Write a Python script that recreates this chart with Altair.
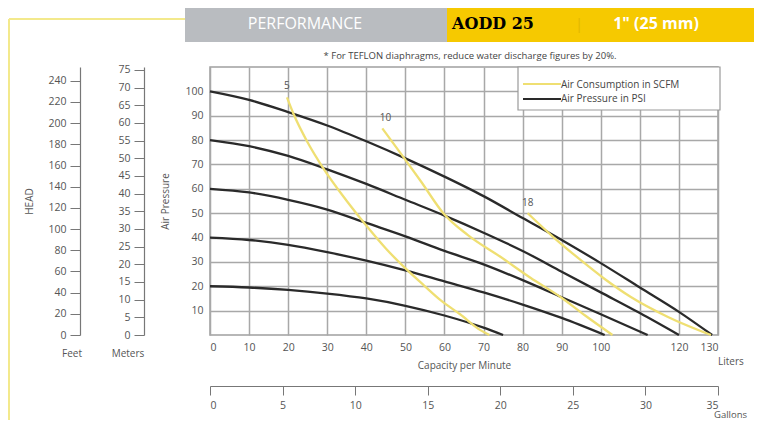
import altair as alt
import pandas as pd

# ---------------- data ----------------
# Air pressure curves (psi) : capacity (liters/min) vs pressure (psi)
psi100_x = [0, 10, 20, 30, 40, 50, 60, 70, 80, 90, 100, 110, 120, 128.5]
psi100_y = [100, 96.5, 91.5, 86, 79.5, 72.5, 65, 57, 48, 39, 29.5, 19.5, 9.5, 0]
psi80_x = [0, 10, 20, 30, 40, 50, 60, 70, 80, 90, 100, 110, 120]
psi80_y = [80, 77.5, 73.5, 68, 62, 55.5, 49, 42, 34.5, 26, 17.5, 9, 0]
psi60_x = [0, 10, 20, 30, 40, 50, 60, 70, 80, 90, 100, 112]
psi60_y = [60, 58.5, 55.5, 51.5, 46, 40.5, 34.5, 29, 22.5, 15.5, 8.5, 0]
psi40_x = [0, 10, 20, 30, 40, 50, 60, 70, 80, 90, 101]
psi40_y = [40, 39, 37, 34, 30.5, 26.5, 22, 17.5, 12.5, 7, 0]
psi20_x = [0, 10, 20, 30, 40, 50, 60, 70, 75]
psi20_y = [20, 19.5, 18.5, 17, 15, 12, 8, 3, 0]

# Air consumption curves (SCFM)
scfm5_x = [19.7, 21.3, 25, 29, 35, 40.3, 45, 50.5, 55, 59, 64, 69.2, 71.5]
scfm5_y = [97.5, 91, 79, 68.4, 55, 44.3, 35.5, 26.6, 20, 14.3, 8.5, 2, 0]
scfm10_x = [44.1, 49.5, 54, 59.7, 66, 74.4, 82, 89.7, 96, 103]
scfm10_y = [84.8, 73, 63, 50, 41, 32, 23.5, 15.6, 8, 0]
scfm18_x = [81.3, 88, 94.9, 101, 107.7, 117.2, 128.2]
scfm18_y = [50, 40, 30.7, 23, 15.6, 7.4, 0]

curve_label_text = ["5", "10", "18"]
curve_label_x = [19.7, 44.9, 81.3]
curve_label_y = [102, 89, 54]

liters_ticks = list(range(0, 131, 10))
psi_ticks = list(range(10, 101, 10))
feet_ticks = list(range(0, 241, 20))
meter_ticks = list(range(0, 76, 5))
gallon_ticks = list(range(0, 36, 5))

series_types = ["Air Consumption in SCFM", "Air Pressure in PSI"]
series_colors = ["#efdf72", "#2a2a2a"]

# ---------------- build tables ----------------
rows = []
for name, xs, ys in [("psi100", psi100_x, psi100_y), ("psi80", psi80_x, psi80_y),
                     ("psi60", psi60_x, psi60_y), ("psi40", psi40_x, psi40_y),
                     ("psi20", psi20_x, psi20_y)]:
    for i, (a, b) in enumerate(zip(xs, ys)):
        rows.append({"curve": name, "type": series_types[1], "liters": a, "psi": b, "o": i})
for name, xs, ys in [("scfm5", scfm5_x, scfm5_y), ("scfm10", scfm10_x, scfm10_y),
                     ("scfm18", scfm18_x, scfm18_y)]:
    for i, (a, b) in enumerate(zip(xs, ys)):
        rows.append({"curve": name, "type": series_types[0], "liters": a, "psi": b, "o": i})
curves = pd.DataFrame(rows)

labels_df = pd.DataFrame({"t": curve_label_text, "liters": curve_label_x, "psi": curve_label_y})

FONT = "Open Sans"
GRAY = "#555555"
W, H = 508, 268

xscale = alt.Scale(domain=[0, 130], nice=False, zero=True)
yscale = alt.Scale(domain=[0, 110], nice=False, zero=True)

x_axis = alt.Axis(values=liters_ticks, grid=True, gridColor="#a8a8a8", gridWidth=1.5,
                  tickSize=0, domain=False, labelPadding=7, labelFontSize=10.5,
                  labelColor=GRAY, labelFont=FONT, labelOverlap=False,
                  labelExpr="datum.value == 110 ? '' : datum.label",
                  title="Capacity per Minute", titleFont=FONT, titleFontSize=10,
                  titleFontWeight="normal", titleColor=GRAY, titlePadding=8)
y_axis = alt.Axis(values=psi_ticks, grid=True, gridColor="#a8a8a8", gridWidth=1.5,
                  tickSize=0, domain=False, labelPadding=7, labelFontSize=10.5,
                  labelColor=GRAY, labelFont=FONT, labelOverlap=False,
                  title="Air Pressure", titleFont=FONT, titleFontSize=10,
                  titleFontWeight="normal", titleColor=GRAY, titlePadding=14)

lines = alt.Chart(curves).mark_line(strokeWidth=2.3, interpolate="monotone").encode(
    x=alt.X("liters:Q", scale=xscale, axis=x_axis),
    y=alt.Y("psi:Q", scale=yscale, axis=y_axis),
    color=alt.Color("type:N", scale=alt.Scale(domain=series_types, range=series_colors),
                    legend=None),
    detail="curve:N",
    order="o:Q",
)

curve_labels = alt.Chart(labels_df).mark_text(font=FONT, fontSize=10, color=GRAY).encode(
    x=alt.X("liters:Q", scale=xscale, axis=x_axis),
    y=alt.Y("psi:Q", scale=yscale, axis=y_axis),
    text="t:N")

main = alt.layer(lines, curve_labels)

# extra axes: feet, meters (left) and gallons (bottom)
common = dict(grid=False, tickSize=10, tickColor="#777", domainColor="#777", domainWidth=1.2,
              labelPadding=4, labelFontSize=10.5, labelColor=GRAY, labelFont=FONT,
              labelOverlap=False)
feet = alt.Chart(pd.DataFrame({"v": feet_ticks})).mark_point(opacity=0).encode(
    y=alt.Y("v:Q", scale=alt.Scale(domain=[0, 253], nice=False),
            axis=alt.Axis(orient="left", offset=130, values=feet_ticks,
                          title="HEAD", titleFont=FONT, titleFontSize=10,
                          titleFontWeight="normal", titleColor=GRAY, titlePadding=13, **common)))
meters = alt.Chart(pd.DataFrame({"v": meter_ticks})).mark_point(opacity=0).encode(
    y=alt.Y("v:Q", scale=alt.Scale(domain=[0, 75.8], nice=False),
            axis=alt.Axis(orient="left", offset=66, values=meter_ticks, title=None, **common)))
gallons = alt.Chart(pd.DataFrame({"v": gallon_ticks})).mark_point(opacity=0).encode(
    x=alt.X("v:Q", scale=alt.Scale(domain=[0, 35], nice=False),
            axis=alt.Axis(orient="bottom", offset=51, values=gallon_ticks, title=None,
                          **{**common, "tickSize": 9, "labelPadding": 5})))

# decorations (header, frame, legend, unit captions)
def txt(text, x, y, size=10, color=GRAY, weight="normal", font=FONT, align="center"):
    return alt.Chart(pd.DataFrame({"t": [text]})).mark_text(
        fontSize=size, color=color, fontWeight=weight, font=font, align=align,
        baseline="middle").encode(x=alt.value(x), y=alt.value(y), text="t:N")

def box(x, x2, y, y2, color, stroke=None):
    kw = {"color": color}
    if stroke:
        kw.update(stroke=stroke, strokeWidth=1.2)
    return alt.Chart(pd.DataFrame({"a": [0]})).mark_rect(**kw).encode(
        x=alt.value(x), x2=alt.value(x2), y=alt.value(y), y2=alt.value(y2))

def rule(x, x2, y, y2, color, w):
    return alt.Chart(pd.DataFrame({"a": [0]})).mark_rule(color=color, strokeWidth=w).encode(
        x=alt.value(x), x2=alt.value(x2), y=alt.value(y), y2=alt.value(y2))

ox, oy = 210, 67  # page position of plot origin
deco = alt.layer(
    box(185 - ox, 447 - ox, 8 - oy, 42 - oy, "#b9bcc0"),
    box(447 - ox, 762 - ox, 8 - oy, 42 - oy, "#f6c900"),
    rule(9 - ox, 185 - ox, 19 - oy, 19 - oy, "#f3e98c", 2),
    rule(9 - ox, 9 - ox, 19 - oy, 428 - oy, "#f3e98c", 2),
    rule(758 - ox, 758 - ox, 42 - oy, 428 - oy, "#f7f1c4", 1.5),
    txt("PERFORMANCE", 305 - ox, 24 - oy, 16, "white"),
    txt("AODD 25", 493 - ox, 24 - oy, 16, "black", "bold", "DejaVu Serif"),
    txt("|", 579 - ox, 24 - oy, 15, "#e3b800"),
    txt("1\" (25 mm)", 656 - ox, 24 - oy, 16, "white", "bold"),
    txt("* For TEFLON diaphragms, reduce water discharge figures by 20%.", 470 - ox, 56 - oy, 9.5, "#444"),
    # legend box
    box(518 - ox, 720 - ox, 67 - oy, 110 - oy, "white", "#9a9a9a"),
    rule(523 - ox, 561 - ox, 84 - oy, 84 - oy, series_colors[0], 2),
    rule(523 - ox, 561 - ox, 99 - oy, 99 - oy, series_colors[1], 2),
    txt(series_types[0], 561 - ox, 85 - oy, 10, "#444", align="left"),
    txt(series_types[1], 561 - ox, 99 - oy, 10, "#444", align="left"),
    txt("Feet", 72 - ox, 354 - oy),
    txt("Meters", 128 - ox, 354 - oy),
    txt("Liters", 718 - ox, 362 - oy, align="left"),
    txt("Gallons", 714 - ox, 415 - oy, 9.5, align="left"),
)

chart = alt.layer(main, feet, meters, gallons, deco).resolve_scale(
    x="independent", y="independent"
).properties(
    width=W, height=H,
    padding={"left": 202, "top": 59, "right": 36, "bottom": 85},
    autosize=alt.AutoSizeParams(type="none"),
    background="white",
).configure_view(stroke="#a0a0a0", strokeWidth=1.5)

chart.save("out.html", embed_options={"renderer": "svg", "actions": False})
